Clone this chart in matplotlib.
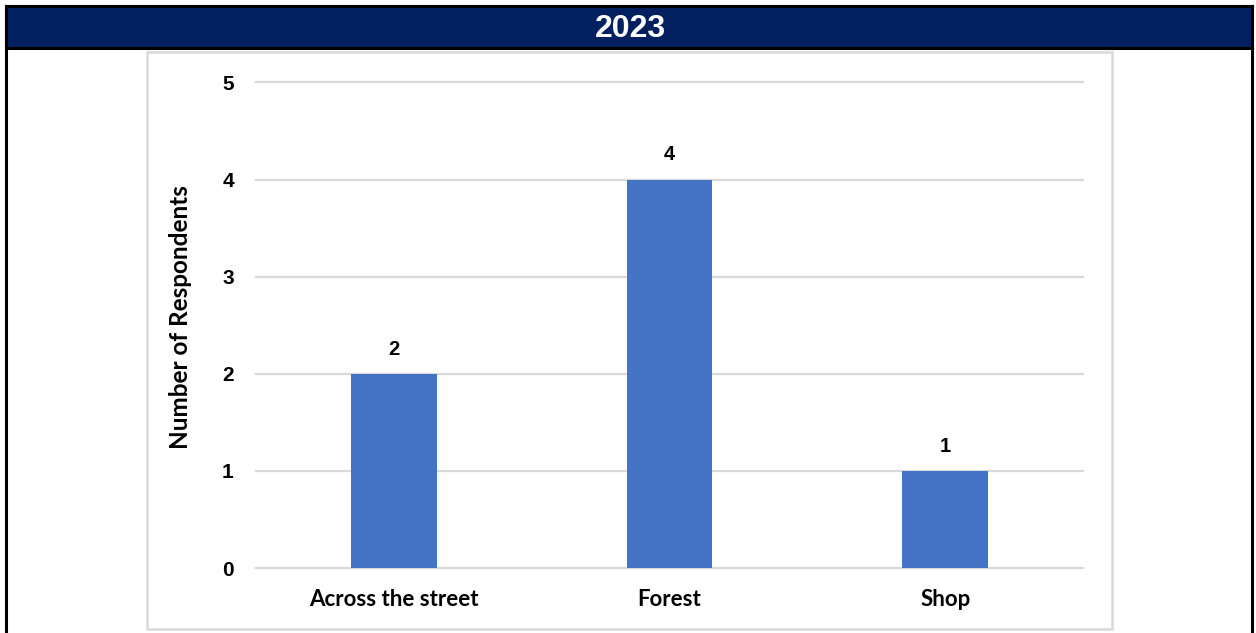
import matplotlib
matplotlib.use("Agg")
import matplotlib.pyplot as plt
from matplotlib.patches import Rectangle

# Survey data
categories = ["Across the street", "Forest", "Shop"]
respondents = [2, 4, 1]
y_ticks = [0, 1, 2, 3, 4, 5]
title = "2023"
y_label = "Number of Respondents"

W, H = 1256, 633
DPI = 100
NAVY = "#002060"
BAR = "#4472C4"
GRID = "#D9D9D9"


def fx(px):
    return px / W


def fy(py):
    return 1 - py / H


fig = plt.figure(figsize=(W / DPI, H / DPI), dpi=DPI)
fig.patch.set_facecolor("white")

# Outer frame and header band
fig.patches.append(Rectangle((fx(6), fy(640)), fx(1252) - fx(6), fy(6) - fy(640),
                             transform=fig.transFigure, facecolor="none",
                             edgecolor="black", linewidth=2.2, zorder=1))
fig.patches.append(Rectangle((fx(6), fy(48)), fx(1252) - fx(6), fy(6) - fy(48),
                             transform=fig.transFigure, facecolor=NAVY,
                             edgecolor="black", linewidth=2.2, zorder=1))
fig.text(fx(630), fy(37), title, color="white", fontsize=23, fontweight="bold",
         family="Liberation Sans", ha="center", va="baseline", zorder=2)

# Chart area border
fig.patches.append(Rectangle((fx(147), fy(629)), fx(1112) - fx(147), fy(52) - fy(629),
                             transform=fig.transFigure, facecolor="none",
                             edgecolor=GRID, linewidth=1.8, zorder=1))

ax = fig.add_axes([fx(256), fy(568), fx(1083) - fx(256), fy(82.5) - fy(568)])
ax.set_facecolor("none")
ax.set_zorder(3)
x = range(len(categories))
bars = ax.bar(x, respondents, width=0.31, color=BAR, zorder=3)
ax.set_xlim(-0.5, len(categories) - 0.5)
ax.set_ylim(0, 5)
ax.set_yticks(y_ticks)
ax.set_yticklabels([str(t) for t in y_ticks], fontsize=15, fontweight="bold",
                   family="Liberation Sans")
ax.set_xticks(list(x))
ax.set_xticklabels(categories, fontsize=16, fontweight="bold", family="Lato")
ax.tick_params(axis="both", length=0)
ax.tick_params(axis="y", pad=16)
ax.tick_params(axis="x", pad=15)
for s in ax.spines.values():
    s.set_visible(False)
ax.grid(axis="y", color=GRID, linewidth=1.6, zorder=0)
ax.set_axisbelow(True)
for gl in ax.get_ygridlines():
    gl.set_clip_on(False)

for rect, v in zip(bars, respondents):
    ax.annotate(str(v), (rect.get_x() + rect.get_width() / 2, v),
                xytext=(0, 11), textcoords="offset points",
                ha="center", va="bottom", fontsize=14.5, fontweight="bold",
                family="Liberation Sans")

ax.set_ylabel(y_label, fontsize=17.5, fontweight="bold", family="Lato")
ax.yaxis.set_label_coords((192 - 256) / 827, (568 - 317) / 485.5)

fig.savefig("out.png", dpi=DPI)
